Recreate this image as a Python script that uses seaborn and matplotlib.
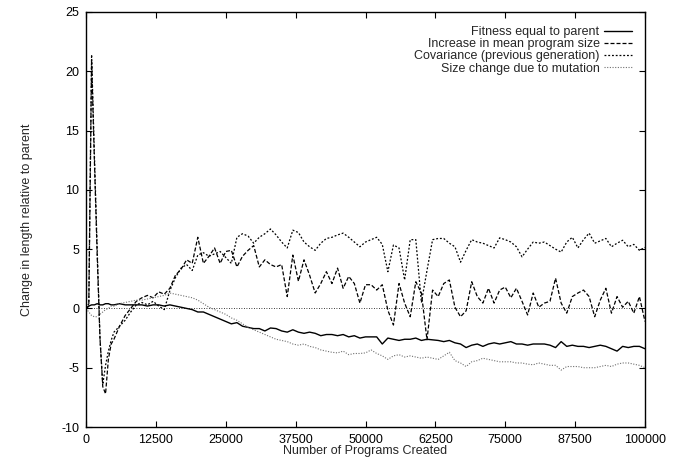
import numpy as np
import pandas as pd
import matplotlib
matplotlib.use("Agg")
import matplotlib.pyplot as plt
import seaborn as sns

# ---------------- data ----------------
programs = [0, 500, 1000, 1500, 2000, 2500, 3000, 3500, 4000, 4500] + list(range(5000, 100001, 1000))

fitness_equal = [
    0.0, 0.2, 0.3, 0.3, 0.4, 0.3, 0.3, 0.4, 0.4, 0.3,
    0.3, 0.4, 0.3, 0.3, 0.3, 0.3, 0.2, 0.3, 0.3, 0.2,
    0.3, 0.2, 0.1, 0.0, -0.1, -0.3, -0.3, -0.5, -0.7, -0.9,
    -1.1, -1.3, -1.2, -1.5, -1.6, -1.7, -1.7, -1.9, -1.65, -1.7,
    -1.9, -2.0, -1.8, -2.0, -2.1, -2.0, -2.1, -2.3, -2.2, -2.2,
    -2.3, -2.2, -2.4, -2.3, -2.5, -2.4, -2.4, -2.4, -3.0, -2.5,
    -2.6, -2.7, -2.6, -2.6, -2.5, -2.7, -2.6, -2.65, -2.7, -2.8,
    -2.7, -2.9, -3.0, -3.3, -3.1, -3.0, -3.2, -3.0, -2.9, -3.0,
    -2.9, -2.8, -3.0, -3.0, -3.1, -3.0, -3.0, -3.0, -3.1, -3.3,
    -2.8, -3.2, -3.1, -3.2, -3.2, -3.3, -3.2, -3.1, -3.2, -3.4,
    -3.6, -3.2, -3.3, -3.2, -3.2, -3.4,
]

mean_size_increase = [
    0.0, 0.2, 20.8, 12.5, 4.5, -2.5, -6.6, -7.2, -4.3, -3.0,
    -2.6, -1.5, -0.6, 0.0, 0.6, 0.9, 1.1, 0.9, 1.4, 1.2,
    1.7, 2.8, 3.3, 4.1, 3.8, 6.0, 3.8, 4.4, 5.1, 3.8,
    4.8, 4.9, 3.5, 4.4, 4.9, 5.3, 3.5, 4.1, 3.7, 3.5,
    3.7, 1.0, 4.5, 2.3, 4.1, 2.8, 1.3, 2.1, 3.1, 2.1,
    3.4, 1.7, 2.7, 2.1, 0.45, 2.0, 2.0, 1.55, 2.0, -0.15,
    -1.4, 2.1, 0.45, -0.7, 2.25, 1.3, -2.65, 1.55, 1.0, 2.1,
    2.4, 0.1, -0.7, -0.2, 2.25, 1.0, 0.45, 1.7, 0.45, 1.55,
    1.8, 0.9, 1.7, 0.6, -0.55, 1.3, 0.1, 0.45, 0.6, 2.55,
    0.45, -0.4, 1.0, 1.3, 1.55, 1.0, -0.7, 0.7, 1.7, -0.4,
    1.0, 0.1, 0.6, -0.4, 1.0, -1.1,
]

covariance_prev = [
    0.0, 0.4, 21.4, 13.0, 5.0, -2.5, -6.4, -4.8, -3.6, -2.7,
    -2.0, -1.5, -1.0, -0.3, 0.3, 0.5, 0.3, 0.6, 0.2, -0.1,
    1.5, 2.6, 3.4, 3.7, 3.2, 4.5, 4.7, 4.4, 4.6, 4.8,
    4.3, 3.8, 6.0, 6.3, 6.1, 5.5, 6.0, 6.3, 6.7, 6.2,
    5.6, 5.1, 6.6, 6.4, 5.6, 5.2, 4.9, 5.5, 5.9, 6.0,
    6.2, 6.35, 6.0, 5.6, 5.2, 5.6, 5.8, 6.0, 5.4, 3.1,
    5.35, 5.1, 2.4, 5.8, 5.8, 0.5, 3.2, 5.8, 5.9, 5.9,
    5.5, 5.2, 3.9, 4.9, 5.8, 5.6, 5.5, 5.3, 5.1, 5.95,
    5.8, 5.6, 5.2, 4.35, 5.0, 5.6, 5.5, 5.6, 5.3, 5.0,
    4.75, 5.6, 6.0, 5.1, 5.8, 6.35, 5.5, 5.7, 5.9, 5.2,
    5.5, 5.75, 5.2, 5.4, 4.9, 5.15,
]

mutation_change = [
    0.0, -0.3, -0.6, -0.7, -0.7, -0.5, -0.3, -0.1, 0.0, 0.2,
    0.2, 0.4, 0.5, 0.6, 0.7, 0.7, 0.8, 0.9, 1.0, 1.1,
    1.3, 1.2, 1.1, 1.0, 0.9, 0.7, 0.4, 0.1, -0.1, -0.3,
    -0.5, -0.8, -1.0, -1.3, -1.6, -1.8, -2.0, -2.2, -2.4, -2.6,
    -2.7, -2.8, -3.0, -3.1, -3.0, -3.2, -3.3, -3.5, -3.6, -3.7,
    -3.75, -3.6, -3.9, -3.8, -3.8, -3.75, -3.5, -3.8, -4.0, -4.3,
    -4.0, -3.9, -4.1, -4.0, -4.1, -4.2, -4.1, -4.2, -4.3, -4.0,
    -3.7, -4.4, -4.6, -4.9, -4.5, -4.4, -4.2, -4.3, -4.4, -4.5,
    -4.5, -4.5, -4.6, -4.6, -4.7, -4.75, -4.6, -4.7, -4.8, -4.8,
    -5.2, -4.9, -4.9, -4.9, -5.0, -5.0, -5.0, -4.9, -4.8, -4.9,
    -4.7, -4.6, -4.6, -4.7, -4.8, -5.0,
]

series_labels = [
    "Fitness equal to parent",
    "Increase in mean program size",
    "Covariance (previous generation)",
    "Size change due to mutation",
]

x_ticks = [0, 12500, 25000, 37500, 50000, 62500, 75000, 87500, 100000]
y_ticks = [-10, -5, 0, 5, 10, 15, 20, 25]

# ---------------- style ----------------
sns.set_style("ticks")
plt.rcParams["font.family"] = ["Liberation Sans", "DejaVu Sans"]
plt.rcParams["font.size"] = 9

FS = 9
W, H = 680, 463
fig = plt.figure(figsize=(W / 100, H / 100), dpi=100)
L, R, T, B = 86, 645, 12, 427
ax = fig.add_axes([L / W, 1 - B / H, (R - L) / W, (B - T) / H])

ax.axhline(0, color="black", lw=0.6, ls=(0, (1, 2)), zorder=1)

styles = [
    dict(color="black", lw=1.0, ls="-"),
    dict(color="black", lw=0.9, ls=(0, (3.2, 1.6))),
    dict(color="black", lw=0.9, ls=(0, (1.5, 1.5))),
    dict(color="#707070", lw=0.8, ls=(0, (1.0, 1.4))),
]
values = [fitness_equal, mean_size_increase, covariance_prev, mutation_change]

for lab, vals, st in zip(series_labels, values, styles):
    df = pd.DataFrame({"programs": programs, "value": vals})
    sns.lineplot(data=df, x="programs", y="value", ax=ax, label=lab,
                 color=st["color"], linewidth=st["lw"], linestyle=st["ls"],
                 estimator=None, sort=False)

ax.set_xlim(0, 100000)
ax.set_ylim(-10, 25)
ax.set_xticks(x_ticks)
ax.set_xticklabels([str(t) for t in x_ticks])
ax.set_yticks(y_ticks)
ax.set_yticklabels([str(t) for t in y_ticks])
ax.tick_params(direction="in", top=True, right=True, length=4, width=0.8,
               labelsize=FS, pad=5, colors="black")
for s in ax.spines.values():
    s.set_visible(True)
    s.set_linewidth(1.0)
    s.set_color("black")

ax.set_xlabel("Number of Programs Created", fontsize=FS)
ax.set_ylabel("Change in length relative to parent", fontsize=FS)
ax.xaxis.set_label_coords(0.5, -(445 - B) / (B - T))
ax.yaxis.set_label_coords(-(L - 33) / (R - L), 0.5)

leg = ax.legend(loc="upper right", frameon=False, markerfirst=False,
                fontsize=FS, handlelength=2.25, handletextpad=0.35,
                labelspacing=0.02, borderpad=0, borderaxespad=0,
                bbox_to_anchor=(1 - 13 / (R - L), 1 - 14 / (B - T)))

fig.savefig("out.png", dpi=100)
